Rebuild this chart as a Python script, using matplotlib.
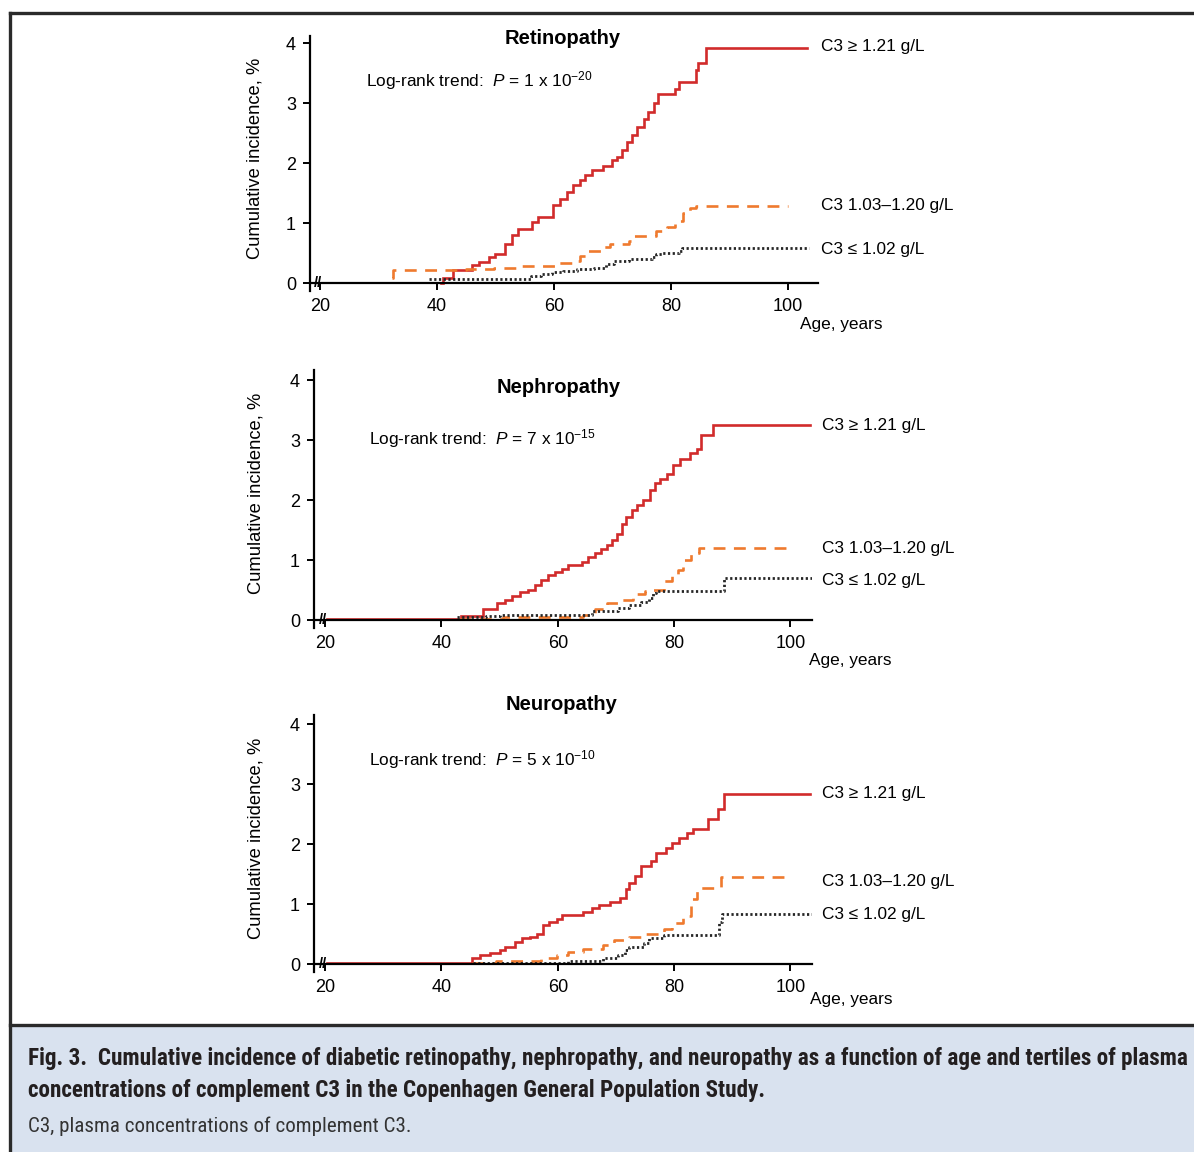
import matplotlib; matplotlib.use("Agg")
import matplotlib.pyplot as plt
from matplotlib import font_manager
from matplotlib.patches import Rectangle
from matplotlib.lines import Line2D

plt.rcParams["font.family"] = ["Liberation Sans", "DejaVu Sans"]
plt.rcParams["mathtext.fontset"] = "custom"
plt.rcParams["mathtext.rm"] = "Liberation Sans"
plt.rcParams["mathtext.it"] = "Liberation Sans:italic"

RED = "#d12b2b"; ORG = "#ef7a2e"; BLK = "#262626"

# ---- data (age, cumulative incidence %) ----
ret_hi_age = [40.7, 41.0, 42.8, 45.9, 47.1, 48.8, 49.9, 51.6, 52.8, 53.9, 56.2, 57.3, 59.9, 61.0, 62.2, 63.3,
              64.4, 65.3, 66.4, 68.4, 69.9, 70.7, 71.6, 72.4, 73.3, 74.1, 75.3, 76.1, 77.0, 77.8, 80.7, 81.3,
              84.2, 84.6, 85.9, 103.3]
ret_hi_inc = [0.0, 0.09, 0.22, 0.30, 0.35, 0.44, 0.48, 0.66, 0.80, 0.91, 1.02, 1.11, 1.30, 1.41, 1.52, 1.63,
              1.72, 1.80, 1.88, 1.95, 2.05, 2.11, 2.22, 2.36, 2.47, 2.61, 2.74, 2.86, 3.00, 3.15, 3.24, 3.36,
              3.56, 3.67, 3.92, 3.92]
ret_mid_age = [32.3, 32.5, 45.0, 49.8, 53.8, 60.3, 63.6, 64.5, 65.6, 68.0, 69.5, 72.8, 73.4, 77.4, 79.3, 80.7,
               82.0, 83.3, 84.3, 100.0]
ret_mid_inc = [0.08, 0.22, 0.24, 0.26, 0.29, 0.33, 0.37, 0.45, 0.54, 0.60, 0.66, 0.70, 0.79, 0.87, 0.93, 1.04,
               1.17, 1.26, 1.29, 1.29]
ret_lo_age = [38.6, 56.1, 57.7, 59.7, 61.6, 64.0, 66.9, 68.8, 70.2, 72.8, 76.7, 77.4, 78.4, 81.3, 81.8, 103.6]
ret_lo_inc = [0.07, 0.12, 0.15, 0.18, 0.20, 0.23, 0.26, 0.32, 0.37, 0.40, 0.44, 0.48, 0.51, 0.54, 0.59, 0.59]

nep_hi_age = [20.3, 43.3, 47.2, 49.5, 50.9, 52.1, 53.5, 54.9, 56.1, 57.2, 58.4, 59.5, 60.7, 61.8, 64.1, 65.2,
              66.4, 67.5, 68.4, 69.3, 70.1, 71.0, 71.8, 72.7, 73.6, 74.7, 75.8, 76.7, 77.6, 78.7, 79.8, 81.0,
              82.7, 83.9, 84.7, 86.7, 103.3]
nep_hi_inc = [0.02, 0.07, 0.19, 0.28, 0.33, 0.40, 0.47, 0.51, 0.58, 0.67, 0.75, 0.81, 0.86, 0.92, 0.97, 1.06,
              1.12, 1.19, 1.25, 1.33, 1.44, 1.61, 1.72, 1.83, 1.92, 2.00, 2.17, 2.28, 2.36, 2.44, 2.58, 2.69,
              2.78, 2.86, 3.08, 3.25, 3.25]
nep_mid_age = [43.0, 50.6, 64.4, 66.4, 68.4, 70.4, 73.0, 75.0, 76.3, 78.3, 79.6, 80.6, 81.6, 82.9, 84.2, 100.0]
nep_mid_inc = [0.02, 0.05, 0.09, 0.18, 0.29, 0.34, 0.43, 0.48, 0.51, 0.65, 0.73, 0.84, 1.00, 1.12, 1.20, 1.20]
nep_lo_age = [42.7, 47.6, 50.0, 65.8, 70.4, 72.3, 74.3, 75.6, 76.3, 76.9, 88.5, 103.9]
nep_lo_inc = [0.06, 0.07, 0.09, 0.15, 0.20, 0.26, 0.31, 0.37, 0.45, 0.49, 0.70, 0.70]

neu_hi_age = [20.3, 45.2, 46.7, 48.3, 50.0, 50.9, 52.6, 53.9, 55.2, 56.5, 57.5, 58.5, 59.8, 60.8, 64.4, 65.8,
              67.1, 69.0, 70.7, 71.7, 72.3, 73.3, 74.3, 76.0, 76.9, 78.6, 79.6, 80.9, 82.2, 83.2, 85.8, 87.5,
              88.5, 103.3]
neu_hi_inc = [0.02, 0.10, 0.15, 0.18, 0.24, 0.29, 0.37, 0.43, 0.46, 0.51, 0.65, 0.70, 0.76, 0.82, 0.87, 0.93,
              0.98, 1.03, 1.10, 1.25, 1.36, 1.47, 1.64, 1.72, 1.86, 1.94, 2.02, 2.10, 2.19, 2.25, 2.41, 2.58,
              2.83, 2.83]
neu_mid_age = [45.3, 49.3, 57.2, 59.8, 61.8, 64.4, 67.7, 69.7, 72.3, 75.0, 78.3, 79.6, 81.6, 82.9, 83.9, 88.1, 100.0]
neu_mid_inc = [0.02, 0.05, 0.11, 0.15, 0.21, 0.26, 0.32, 0.40, 0.46, 0.51, 0.59, 0.68, 0.81, 1.09, 1.27, 1.45, 1.45]
neu_lo_age = [45.5, 61.8, 67.7, 70.4, 71.5, 72.3, 74.9, 75.6, 78.3, 87.8, 88.2, 103.9]
neu_lo_inc = [0.02, 0.05, 0.11, 0.15, 0.24, 0.29, 0.35, 0.43, 0.48, 0.70, 0.83, 0.83]

titles = ["Retinopathy", "Nephropathy", "Neuropathy"]
pvals = ["1 x 10$^{-20}$", "7 x 10$^{-15}$", "5 x 10$^{-10}$"]
group_labels = ["C3 \u2265 1.21 g/L", "C3 1.03\u20131.20 g/L", "C3 \u2264 1.02 g/L"]
xticks = [20, 40, 60, 80, 100]
yticks = [0, 1, 2, 3, 4]

series = [
    [(ret_hi_age, ret_hi_inc), (ret_mid_age, ret_mid_inc), (ret_lo_age, ret_lo_inc)],
    [(nep_hi_age, nep_hi_inc), (nep_mid_age, nep_mid_inc), (nep_lo_age, nep_lo_inc)],
    [(neu_hi_age, neu_hi_inc), (neu_mid_age, neu_mid_inc), (neu_lo_age, neu_lo_inc)],
]

# ---- layout (pixels in a 1194x1152 canvas) ----
W, H = 1194, 1152
boxes = [(310, 818, 36, 291), (314, 812, 370, 628), (314, 812, 715, 972)]
xlims = [(18.3, 105.1), (18.1, 103.7), (18.1, 103.7)]
ylims = [(-0.13, 4.12), (-0.13, 4.17), (-0.13, 4.15)]
title_xy = [(61.5, 4.08), (60.2, 3.88), (60.7, 4.32)]
prank_xy = [(27.9, 3.38), (27.6, 3.03), (27.6, 3.40)]
lab_x = [105.6, 105.5, 105.5]
lab_y = [[3.95, 1.30, 0.57], [3.25, 1.20, 0.67], [2.85, 1.38, 0.82]]
age_xy = [(102.0, -0.68), (103.1, -0.67), (103.4, -0.58)]
ylab_x = [-0.091, -0.10, -0.10]
styles = [dict(color=RED, lw=1.9, ls="-"),
          dict(color=ORG, lw=1.9, ls=(0, (4.5, 3.2))),
          dict(color=BLK, lw=2.0, ls=(0, (0.8, 0.9)))]

fig = plt.figure(figsize=(W / 100, H / 100), dpi=100)

# frame and caption box
fig.add_artist(Rectangle((10 / W, 0), 1, 1 - 1025 / H, transform=fig.transFigure,
                         facecolor="#d9e2ef", edgecolor="none", zorder=0))
for xs, ys in [((10 / W, 1), (1 - 13 / H, 1 - 13 / H)),
               ((10 / W, 10 / W), (0, 1 - 13 / H)),
               ((10 / W, 1), (1 - 1025 / H, 1 - 1025 / H))]:
    fig.add_artist(Line2D(xs, ys, transform=fig.transFigure, color="#2a2a2a", lw=2.4))

for i in range(3):
    l, r, t, b = boxes[i]
    ax = fig.add_axes([l / W, 1 - b / H, (r - l) / W, (b - t) / H])
    ax.patch.set_alpha(0)
    for (x, y), st in zip(series[i], styles):
        ax.step(x, y, where="post", solid_joinstyle="miter", **st)
    ax.set_xlim(*xlims[i]); ax.set_ylim(*ylims[i])
    ax.spines[["top", "right"]].set_visible(False)
    ax.spines["bottom"].set_position(("data", 0))
    for s in ("left", "bottom"):
        ax.spines[s].set_linewidth(1.6)
    ax.set_xticks(xticks); ax.set_yticks(yticks)
    ax.tick_params(labelsize=13, width=1.4, length=5)
    ax.tick_params(axis="x", pad=6)
    ax.tick_params(axis="y", pad=5)
    ax.set_ylabel("Cumulative incidence, %", fontsize=13.2)
    ax.yaxis.set_label_coords(ylab_x[i], 0.52)
    ax.text(19.6, 0, "//", fontsize=10.5, ha="center", va="center", fontweight="bold")
    ax.text(*title_xy[i], titles[i], fontsize=14.5, fontweight="bold", ha="center", va="center")
    ax.text(*prank_xy[i], "Log-rank trend:  $\\it{P}$ = " + pvals[i], fontsize=12.4, ha="left", va="center")
    for lab, yy in zip(group_labels, lab_y[i]):
        ax.text(lab_x[i], yy, lab, fontsize=12.4, ha="left", va="center", clip_on=False)
    ax.text(*age_xy[i], "Age, years", fontsize=12.4, ha="left", va="center", clip_on=False)

# caption: prefer a condensed face if one is installed
fonts = font_manager.fontManager.ttflist
names = {f.name for f in fonts}
capkw = dict(family="Liberation Sans")
for cand in ["Roboto Condensed", "Open Sans Condensed", "Noto Sans Condensed", "Liberation Sans Narrow",
             "DejaVu Sans Condensed"]:
    if cand in names:
        capkw = dict(family=cand)
        break
else:
    if any(f.name == "DejaVu Sans" and f.stretch == "condensed" for f in fonts):
        capkw = dict(family="DejaVu Sans", fontstretch="condensed")

cap1 = ("Fig. 3.  Cumulative incidence of diabetic retinopathy, nephropathy, and neuropathy "
        "as a function of age and tertiles of plasma")
cap2 = "concentrations of complement C3 in the Copenhagen General Population Study."
cap3 = "C3, plasma concentrations of complement C3."
x0 = 28 / W
t1 = fig.text(x0, 1 - 1058 / H, cap1, fontsize=17, fontweight="bold", color="#231f20", va="center", **capkw)
t3 = fig.text(x0, 1 - 1126 / H, cap3, fontsize=17, color="#333333", va="center", **capkw)
fig.canvas.draw()
fs = 17 * 1162 / t1.get_window_extent().width
fs3 = 17 * 384 / t3.get_window_extent().width
t1.set_fontsize(fs)
t3.set_fontsize(fs3)
fig.text(x0, 1 - 1090 / H, cap2, fontsize=fs, fontweight="bold", color="#231f20", va="center", **capkw)

fig.savefig("out.png", dpi=100)
